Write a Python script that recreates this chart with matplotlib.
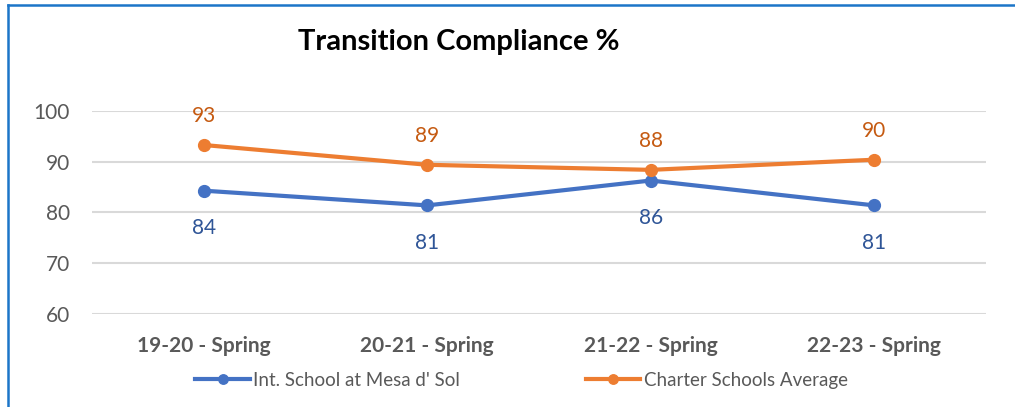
import matplotlib
matplotlib.use('Agg')
import matplotlib.pyplot as plt
from matplotlib.lines import Line2D

plt.rcParams['font.family'] = ['Lato', 'DejaVu Sans']

categories = ['19-20 - Spring', '20-21 - Spring', '21-22 - Spring', '22-23 - Spring']
school = [84.3, 81.4, 86.3, 81.4]
charter = [93.3, 89.4, 88.4, 90.4]
school_name = "Int. School at Mesa d' Sol"
charter_name = 'Charter Schools Average'
yticks = [60, 70, 80, 90, 100]

fig = plt.figure(figsize=(10.15, 4.07), dpi=100)
ax = fig.add_axes([0.0906, 0.2285, 0.8808, 0.4988])

x = range(len(categories))
ax.plot(x, school, color='#4472C4', lw=3, marker='o', ms=8.5, label=school_name, zorder=3)
ax.plot(x, charter, color='#ED7D31', lw=3, marker='o', ms=8.5, label=charter_name, zorder=3)

for i in x:
    ax.annotate('%d' % round(charter[i]), (i, charter[i]), xytext=(0, 21),
                textcoords='offset points', ha='center', va='center',
                color='#C55A11', fontsize=15)
    ax.annotate('%d' % round(school[i]), (i, school[i]), xytext=(0, -27),
                textcoords='offset points', ha='center', va='center',
                color='#2F5597', fontsize=15)

ax.set_xlim(-0.5, 3.5)
ax.set_ylim(60, 100)
ax.set_yticks(yticks)
ax.set_xticks(list(x))
ax.set_xticklabels(categories, fontweight='bold', fontsize=15, color='#595959')
ax.tick_params(axis='y', labelsize=15, labelcolor='#595959', length=0, pad=16)
ax.tick_params(axis='x', length=0, pad=16)
ax.grid(axis='y', color='#D9D9D9', lw=1.5)
ax.set_axisbelow(True)
for s in ax.spines.values():
    s.set_visible(False)

fig.text(0.452, 0.898, 'Transition Compliance %', ha='center', va='center',
         fontsize=21, fontweight='bold', color='#000000')

leg = fig.legend(loc='center', bbox_to_anchor=(0.514, 0.066), ncol=2, frameon=False,
                 fontsize=13.5, labelcolor='#595959', handlelength=2.9, columnspacing=6.7,
                 handletextpad=0.2, markerscale=0.8)

# outer frame (left and top edges visible)
fig.add_artist(Line2D([8 / 1015, 8 / 1015], [0, 1 - 5 / 407], transform=fig.transFigure,
                      color='#1C75C8', lw=1.8))
fig.add_artist(Line2D([8 / 1015, 1], [1 - 5 / 407, 1 - 5 / 407], transform=fig.transFigure,
                      color='#1C75C8', lw=1.8))

fig.savefig('out.png', dpi=100)
